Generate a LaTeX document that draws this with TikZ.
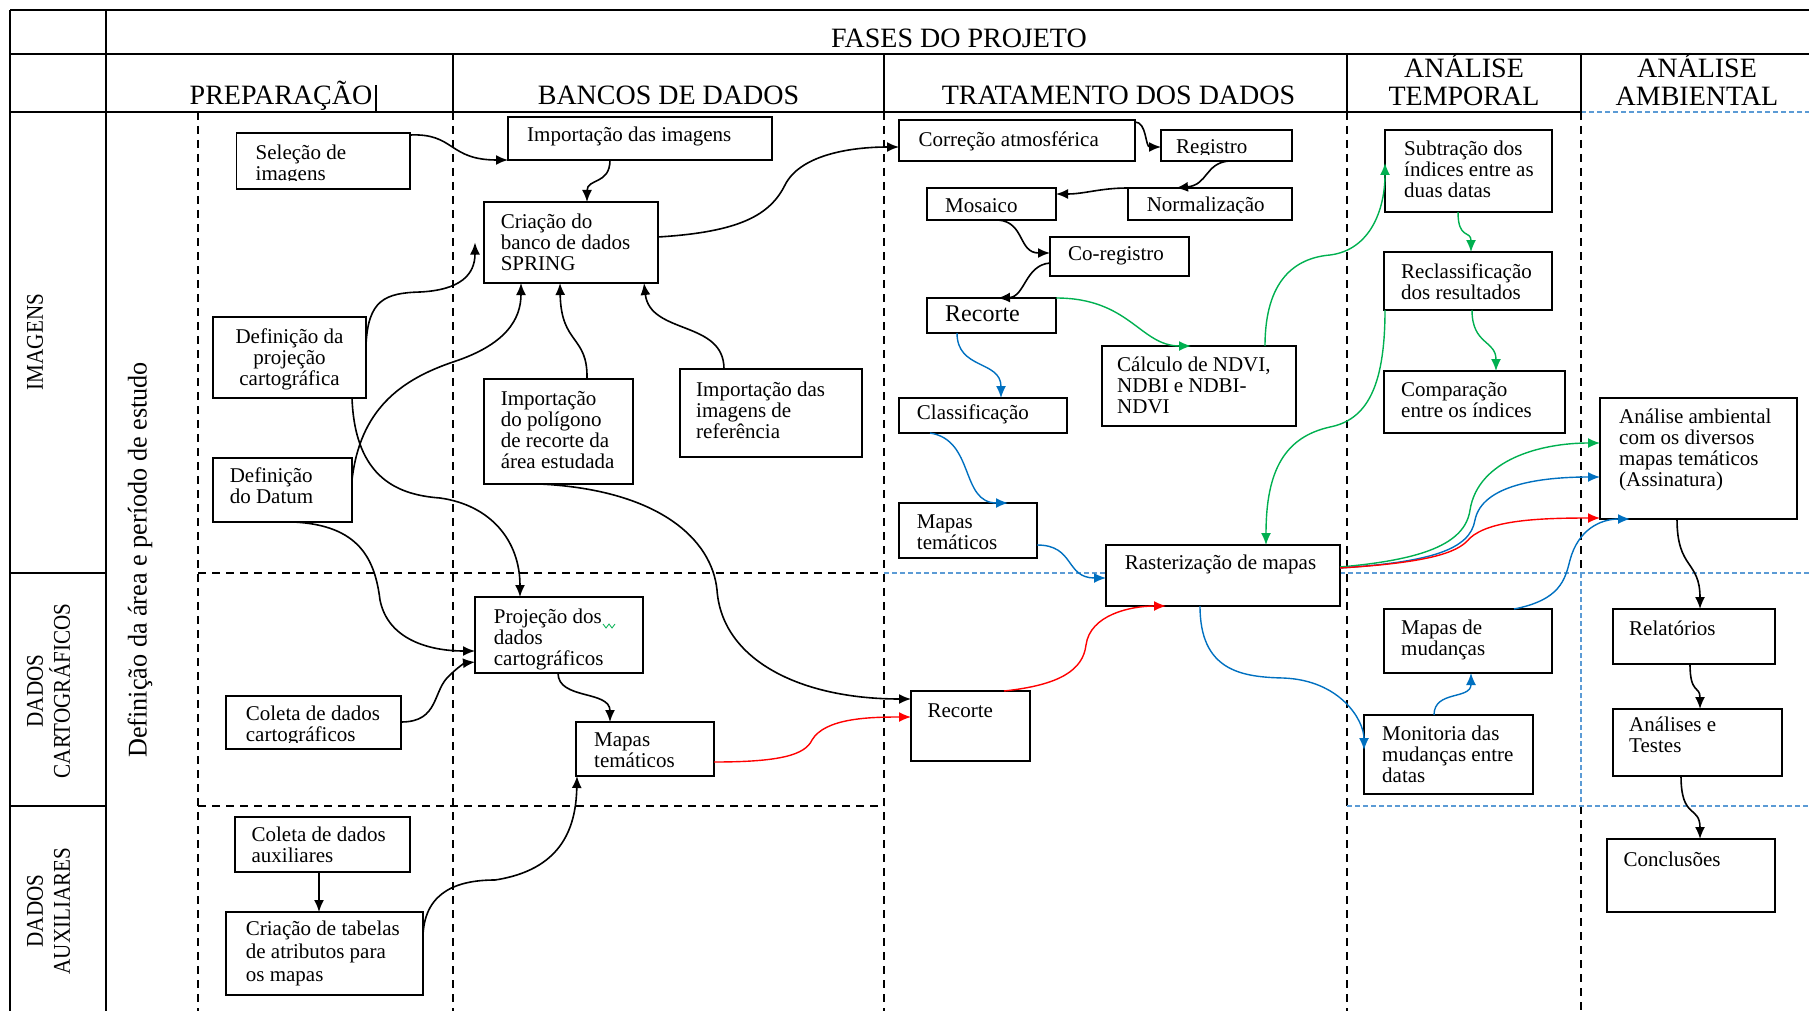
\documentclass[tikz,border=0pt]{standalone}
\usepackage{fontspec}
\setmainfont{Liberation Serif}
\usepackage{graphicx}
\usetikzlibrary{arrows.meta}
\definecolor{arrblue}{RGB}{0,112,192}
\definecolor{arrgreen}{RGB}{0,176,80}
\definecolor{arrred}{RGB}{255,0,0}
\definecolor{gridblue}{RGB}{91,155,213}
\newcommand\fs{\rule{0pt}{20pt}}
\newcommand\flowbox[5]{\node[box, minimum width={#4-#2}, minimum height={#5-#3}] (#1) at (#2,#3) {};}
\begin{document}
\begin{tikzpicture}[x=1pt,y=-1pt,
  solidline/.style={line width=1.6pt},
  dashline/.style={line width=1.4pt, dash pattern=on 8pt off 6pt},
  bluedash/.style={line width=1.2pt, draw=gridblue, dash pattern=on 5pt off 3pt},
  box/.style={draw, fill=white, line width=1.6pt, inner sep=0pt, outer sep=0pt, anchor=north west},
  boxtext/.style={inner sep=0pt, anchor=north west, yshift=20pt, align=left, font=\fontsize{21}{21}\selectfont},
  hdr/.style={inner sep=0pt, font=\fontsize{28}{28}\selectfont},
  rowlab/.style={inner sep=0pt, rotate=90, align=center, font=\fontsize{24}{27}\selectfont},
  link/.style={line width=1.6pt, -{Latex[length=12pt,width=10pt]}},
  bluelink/.style={link, line width=1.4pt, draw=arrblue, -{Latex[length=12pt,width=10pt,color=arrblue]}},
  greenlink/.style={link, line width=1.4pt, draw=arrgreen, -{Latex[length=12pt,width=10pt,color=arrgreen]}},
  redlink/.style={link, line width=1.4pt, draw=arrred, -{Latex[length=12pt,width=10pt,color=arrred]}}
]
\useasboundingbox (0,0) rectangle (1809,1011);

% ---- table frame ----
\draw[solidline] (10,10) -- (1809,10);
\draw[solidline] (10,54) -- (1809,54);
\draw[solidline] (10,112) -- (1581,112);
\draw[bluedash] (1581,112) -- (1809,112);
\draw[solidline] (10,10) -- (10,1011);
\draw[solidline] (106,10) -- (106,1011);
\draw[solidline] (10,573) -- (106,573);
\draw[solidline] (10,806) -- (106,806);
\foreach \cx in {453,884,1347,1581} \draw[solidline] (\cx,54) -- (\cx,112);

% ---- phase and row separators ----
\draw[dashline] (198,112) -- (198,1011);
\draw[dashline] (453,112) -- (453,1011);
\draw[dashline] (884,112) -- (884,1011);
\draw[dashline] (1347,112) -- (1347,1011);
\draw[dashline] (1581,112) -- (1581,573);
\draw[bluedash] (1581,573) -- (1581,806);
\draw[dashline] (1581,806) -- (1581,1011);
\draw[dashline] (198,573) -- (884,573);
\draw[bluedash] (884,573) -- (1809,573);
\draw[dashline] (198,806) -- (884,806);
\draw[bluedash] (1347,806) -- (1809,806);

% ---- headers ----
\node[hdr, anchor=base] (hfases) at (959,48) {FASES DO PROJETO};
\node[hdr, anchor=base] (hprep) at (281,105) {PREPARAÇÃO};
\draw[line width=2.2pt] (376,85) -- (376,112);
\node[hdr, anchor=base] (hbanc) at (668.5,105) {BANCOS DE DADOS};
\node[hdr, anchor=base] (htrat) at (1118.5,105) {TRATAMENTO DOS DADOS};
\node[hdr, anchor=north, align=center] (htemp) at (1464,51) {\rule{0pt}{26pt}ANÁLISE\\TEMPORAL};
\node[hdr, anchor=north, align=center] (hamb) at (1697,51) {\rule{0pt}{26pt}ANÁLISE\\AMBIENTAL};

% ---- row labels ----
\node[rowlab] (rimg) at (35,342) {\scalebox{0.88}[1]{IMAGENS}};
\node[rowlab] (rcart) at (48.5,691) {\scalebox{0.88}[1]{DADOS}\\\scalebox{0.88}[1]{CARTOGRÁFICOS}};
\node[rowlab] (raux) at (48.5,911) {\scalebox{0.88}[1]{DADOS}\\\scalebox{0.88}[1]{AUXILIARES}};
\node[inner sep=0pt, rotate=90, font=\fontsize{27}{27}\selectfont] (rdef) at (140,560)
  {\scalebox{0.97}[1]{Definição da área e período de estudo}};

% ---- boxes ----
\flowbox{sel}{236.5}{133}{410}{189}
\flowbox{imp}{508}{117}{772}{160}
\flowbox{cri}{484}{202}{658}{283}
\flowbox{proj}{213}{317}{366}{398}
\flowbox{dat}{213}{458}{352}{522}
\flowbox{pol}{484}{379}{633}{484}
\flowbox{ref}{680}{369}{862}{457}
\flowbox{cor}{899}{120}{1135}{161}
\flowbox{reg}{1161}{130}{1292}{161}
\flowbox{nor}{1128}{188}{1292}{220}
\flowbox{mos}{927}{188}{1056}{220}
\flowbox{cor2}{1050}{237}{1189}{276}
\flowbox{rec1}{927}{298}{1056}{333}
\flowbox{ndvi}{1102}{346}{1296}{426}
\flowbox{cla}{899}{398}{1067}{433}
\flowbox{sub}{1385}{130}{1552}{212}
\flowbox{rcl}{1384}{252}{1552}{310}
\flowbox{cmp}{1384}{371}{1565}{433}
\flowbox{amb}{1600}{398}{1797}{519}
\flowbox{mt2}{899}{503}{1037}{558}
\flowbox{ras}{1106}{545}{1340}{606}
\flowbox{rec2}{911}{691}{1030}{761}
\flowbox{mud}{1384}{609}{1552}{673}
\flowbox{mon}{1364}{715}{1533}{794}
\flowbox{rel}{1613}{609}{1775}{664}
\flowbox{tes}{1613}{709}{1782}{776}
\flowbox{con}{1607}{839}{1775}{912}
\flowbox{pdc}{475}{597}{643}{673}
\flowbox{col}{226}{696}{401}{749}
\flowbox{mt1}{576}{722}{714}{776}
\flowbox{aux}{235}{817}{410}{872}
\flowbox{tab}{226}{912}{423}{995}

% ---- box texts ----
\begin{scope}
  \clip (236.5,133) rectangle (410,181);
  \node[boxtext] (sel-t) at (255.5,159) {\fs Seleção de\\imagens};
\end{scope}
\node[boxtext] (imp-t) at (527,141.7) {\fs Importação das imagens};
\node[boxtext] (cri-t) at (500.6,228) {\fs Criação do\\banco de dados\\SPRING};
\node[boxtext, anchor=north, align=center] (proj-t) at (289.5,343) {\fs Definição da\\projeção\\cartográfica};
\node[boxtext] (dat-t) at (229.6,482.7) {\fs Definição\\do Datum};
\node[boxtext] (pol-t) at (500.6,405) {\fs Importação\\do polígono\\de recorte da\\área estudada};
\node[boxtext] (ref-t) at (696,396.7) {\fs Importação das\\imagens de\\referência};
\node[boxtext] (cor-t) at (918.5,146.7) {\fs Correção atmosférica};
\begin{scope}
  \clip (1161,130) rectangle (1292,154.5);
  \node[boxtext] (reg-t) at (1176,153) {\fs Registro};
\end{scope}
\begin{scope}
  \clip (1128,188) rectangle (1292,213);
  \node[boxtext] (nor-t) at (1146.6,211.7) {\fs Normalização};
\end{scope}
\node[boxtext] (mos-t) at (945,212) {\fs Mosaico};
\node[boxtext] (cor2-t) at (1068,260) {\fs Co-registro};
\node[boxtext, font=\fontsize{24}{24}\selectfont] (rec1-t) at (945,321.7) {\fs Recorte};
\node[boxtext] (ndvi-t) at (1117,371.7) {\fs Cálculo de NDVI,\\NDBI e NDBI-\\NDVI};
\node[boxtext] (cla-t) at (916.7,419.3) {\fs Classificação};
\node[boxtext] (sub-t) at (1404,155) {\fs Subtração dos\\índices entre as\\duas datas};
\node[boxtext] (rcl-t) at (1401,278) {\fs Reclassificação\\dos resultados};
\node[boxtext] (cmp-t) at (1401,396.7) {\fs Comparação\\entre os índices};
\node[boxtext] (amb-t) at (1619,423.3) {\fs Análise ambiental\\com os diversos\\mapas temáticos\\(Assinatura)};
\node[boxtext] (mt2-t) at (916.7,528.3) {\fs Mapas\\temáticos};
\node[boxtext] (ras-t) at (1124.7,569.3) {\fs Rasterização de mapas};
\node[boxtext] (rec2-t) at (927.4,717.3) {\fs Recorte};
\node[boxtext] (mud-t) at (1401,634) {\fs Mapas de\\mudanças};
\node[boxtext] (mon-t) at (1382,740) {\fs Monitoria das\\mudanças entre\\datas};
\node[boxtext] (rel-t) at (1629,635) {\fs Relatórios};
\node[boxtext] (tes-t) at (1629,731.7) {\fs Análises e\\Testes};
\node[boxtext] (con-t) at (1623.5,866.7) {\fs Conclusões};
\node[boxtext] (pdc-t) at (493.7,623.3) {\fs Projeção dos\\dados\\cartográficos};
\draw[arrgreen, line width=0.8pt] (603,624) -- (606,628) -- (609,624) -- (612,628) -- (615,624);
\begin{scope}
  \clip (226,696) rectangle (401,742);
  \node[boxtext] (col-t) at (245.7,720.7) {\fs Coleta de dados\\cartográficos};
\end{scope}
\node[boxtext] (mt1-t) at (594,746.7) {\fs Mapas\\temáticos};
\node[boxtext] (aux-t) at (251.4,841.7) {\fs Coleta de dados\\auxiliares};
\node[boxtext, font=\fontsize{21}{23}\selectfont] (tab-t) at (245.7,935) {\fs Criação de tabelas\\de atributos para\\os mapas};

% ---- black connectors ----
\draw[link] ([shift={(0,2)}]sel.north east) .. controls (455,133) and (448,160) .. (imp.south west);
\draw[link] ([shift={(102,0)}]imp.south west) .. controls (610,185) and (587,178) .. ([shift={(103,0)}]cri.north west);
\draw[link] ([shift={(0,35)}]cri.north east) .. controls (740,232) and (770,215) .. (785,185)
  .. controls (800,155) and (850,147) .. ([shift={(0,-14)}]cor.south west);
\draw[link] ([shift={(0,28)}]proj.north east) .. controls (368,300) and (385,293) .. (420,292)
  .. controls (460,290) and (475,275) .. ([shift={(-9,0)}]cri.west);
\draw[link] ([shift={(0,22)}]dat.north east) .. controls (360,410) and (400,380) .. (453,362)
  .. controls (505,345) and (521,320) .. ([shift={(37,0)}]cri.south west);
\draw[link] ([shift={(103,0)}]pol.north west) .. controls (588,335) and (561,345) .. ([shift={(76,0)}]cri.south west);
\draw[link] ([shift={(44,0)}]ref.north west) .. controls (724,320) and (650,335) .. ([shift={(160,0)}]cri.south west);
\draw[link] ([shift={(139,0)}]proj.south west) .. controls (355,480) and (400,495) .. (440,498)
  .. controls (490,505) and (520,540) .. ([shift={(45,0)}]pdc.north west);
\draw[link] ([shift={(80,0)}]dat.south west) .. controls (360,525) and (375,560) .. (380,600)
  .. controls (388,640) and (430,651) .. ([shift={(0,-22)}]pdc.south west);
\draw[link] ([shift={(0,26)}]col.north east) .. controls (440,722) and (432,690) .. (450,675)
  .. controls (458,667) and (465,663) .. ([shift={(0,-11)}]pdc.south west);
\draw[link] ([shift={(83,0)}]pdc.south west) .. controls (558,700) and (610,690) .. ([shift={(34,0)}]mt1.north west);
\draw[link] ([shift={(0,23)}]tab.north east) .. controls (425,890) and (460,880) .. (495,880)
  .. controls (560,870) and (576,830) .. ([shift={(1,0)}]mt1.south west);
\draw[link] ([shift={(84,0)}]aux.south west) -- ([shift={(93,0)}]tab.north west);
\draw[link] ([shift={(56,0)}]pol.south west) .. controls (660,490) and (712,540) .. (717,590)
  .. controls (722,660) and (800,699) .. ([shift={(0,8)}]rec2.north west);
\draw[link] ([shift={(0,2)}]cor.north east) .. controls (1147,122) and (1145,147) .. ([shift={(0,-14)}]reg.south west);
\draw[link] ([shift={(68,0)}]reg.south west) .. controls (1205,163) and (1208,185) .. ([shift={(48,0)}]nor.north west);
\draw[link] (nor.north west) .. controls (1100,188) and (1085,194) .. ([shift={(0,6)}]mos.north east);
\draw[link] ([shift={(71,0)}]mos.south west) .. controls (1025,222) and (1018,253) .. ([shift={(0,16)}]cor2.north west);
\draw[link] ([shift={(0,26)}]cor2.north west) .. controls (1025,265) and (1025,297) .. ([shift={(71,0)}]rec1.north west);
\draw[link] ([shift={(77,0)}]amb.south west) .. controls (1677,570) and (1700,560) .. ([shift={(87,0)}]rel.north west);
\draw[link] ([shift={(77,0)}]rel.south west) .. controls (1690,695) and (1700,685) .. ([shift={(87,0)}]tes.north west);
\draw[link] ([shift={(68,0)}]tes.south west) .. controls (1681,820) and (1700,805) .. ([shift={(93,0)}]con.north west);

% ---- green connectors ----
\draw[greenlink] (rec1.north east) .. controls (1130,298) and (1140,346) .. ([shift={(89,0)}]ndvi.north west);
\draw[greenlink] ([shift={(163,0)}]ndvi.north west) .. controls (1265,280) and (1295,258) .. (1330,255)
  .. controls (1370,250) and (1385,210) .. ([shift={(0,33)}]sub.north west);
\draw[greenlink] ([shift={(1,0)}]rcl.south west) .. controls (1385,390) and (1365,420) .. (1330,427)
  .. controls (1285,437) and (1266,470) .. ([shift={(160,0)}]ras.north west);
\draw[greenlink] ([shift={(73,0)}]sub.south west) .. controls (1458,240) and (1471,230) .. ([shift={(87,0)}]rcl.north west);
\draw[greenlink] ([shift={(88,0)}]rcl.south west) .. controls (1472,345) and (1496,340) .. ([shift={(112,0)}]cmp.north west);
\draw[greenlink] ([shift={(0,22)}]ras.north east) .. controls (1420,560) and (1465,545) .. (1470,510)
  .. controls (1478,460) and (1540,443) .. ([shift={(0,45)}]amb.north west);

% ---- blue connectors ----
\draw[bluelink] ([shift={(0,23)}]ras.north east) .. controls (1430,562) and (1470,550) .. (1475,520)
  .. controls (1482,485) and (1540,477) .. ([shift={(0,79)}]amb.north west);
\draw[bluelink] ([shift={(30,0)}]rec1.south west) .. controls (957,370) and (1001,360) .. ([shift={(102,0)}]cla.north west);
\draw[bluelink] ([shift={(31,0)}]cla.south west) .. controls (975,440) and (960,503) .. ([shift={(109,0)}]mt2.north west);
\draw[bluelink] ([shift={(0,42)}]mt2.north east) .. controls (1075,545) and (1065,578) .. ([shift={(0,33)}]ras.north west);
\draw[bluelink] ([shift={(94,0)}]ras.south west) .. controls (1200,670) and (1240,677) .. (1283,678)
  .. controls (1340,680) and (1364,720) .. ([shift={(0,35)}]mon.north west);
\draw[bluelink] ([shift={(70,0)}]mon.north west) .. controls (1434,690) and (1471,700) .. ([shift={(87,0)}]mud.south west);
\draw[bluelink] ([shift={(130,0)}]mud.north west) .. controls (1560,600) and (1565,580) .. (1570,560)
  .. controls (1578,530) and (1600,519) .. ([shift={(30,0)}]amb.south west);

% ---- red connectors ----
\draw[redlink] ([shift={(0,23)}]ras.north east) .. controls (1440,562) and (1460,550) .. (1470,538)
  .. controls (1490,520) and (1540,518) .. ([shift={(0,-1)}]amb.south west);
\draw[redlink] ([shift={(0,-14)}]mt1.south east) .. controls (780,762) and (805,755) .. (812,740)
  .. controls (825,718) and (870,717) .. ([shift={(0,26)}]rec2.north west);
\draw[redlink] ([shift={(93,0)}]rec2.north west) .. controls (1060,685) and (1083,670) .. (1086,645)
  .. controls (1090,615) and (1130,606) .. ([shift={(60,0)}]ras.south west);
\end{tikzpicture}
\end{document}
